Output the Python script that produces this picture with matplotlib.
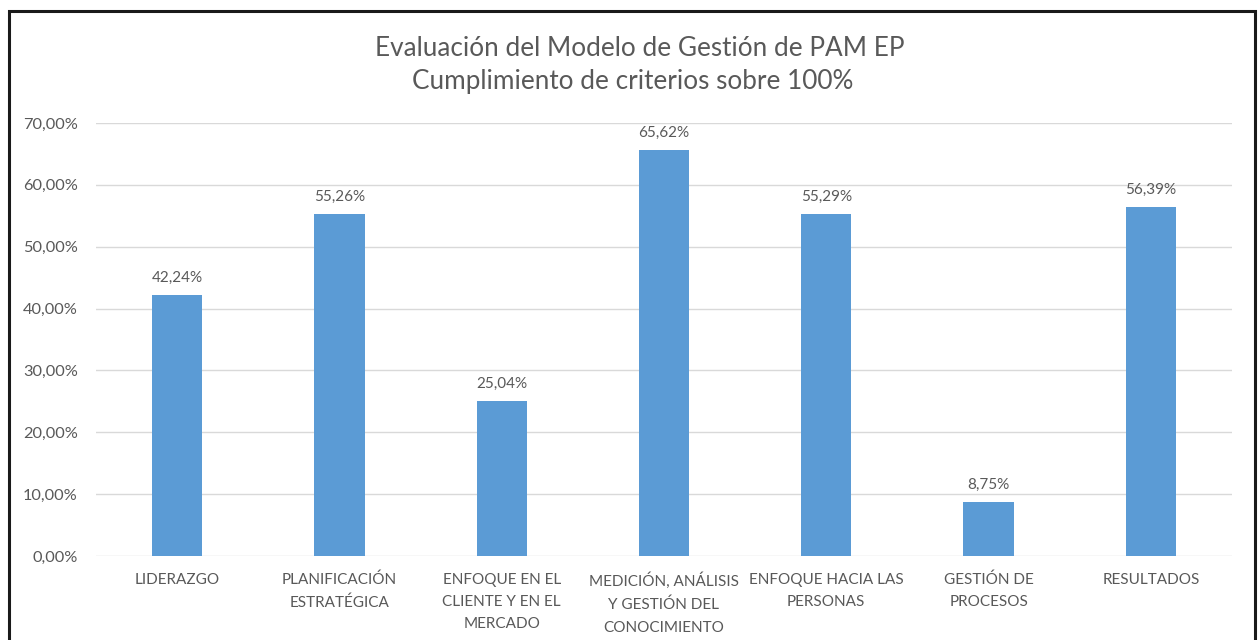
import matplotlib
matplotlib.use("Agg")
import matplotlib.pyplot as plt
from matplotlib.patches import Rectangle
from matplotlib.ticker import FuncFormatter

criterios = ["LIDERAZGO", "PLANIFICACIÓN\nESTRATÉGICA", "ENFOQUE EN EL\nCLIENTE Y EN EL\nMERCADO",
             "MEDICIÓN, ANÁLISIS\nY GESTIÓN DEL\nCONOCIMIENTO", "ENFOQUE HACIA LAS\nPERSONAS",
             "GESTIÓN DE\nPROCESOS", "RESULTADOS"]
cumplimiento = [42.24, 55.26, 25.04, 65.62, 55.29, 8.75, 56.39]

gris = "#595959"
plt.rcParams['font.family'] = ['Lato', 'DejaVu Sans']

fig = plt.figure(figsize=(12.58, 6.4), dpi=100)
ax = fig.add_axes([96/1258, 1-556/640, (1232-96)/1258, (556-123)/640])

x = range(len(criterios))
barras = ax.bar(x, cumplimiento, width=0.31, color="#5B9BD5", zorder=3)
for b, v in zip(barras, cumplimiento):
    ax.text(b.get_x() + b.get_width()/2, v + 1.6, f"{v:.2f}%".replace(".", ","),
            ha="center", va="bottom", fontsize=11, color=gris)

ax.set_ylim(0, 70)
ax.set_xlim(-0.5, len(criterios) - 0.5)
ax.set_yticks(range(0, 71, 10))
ax.yaxis.set_major_formatter(FuncFormatter(lambda v, p: f"{v:.2f}%".replace(".", ",")))
ax.set_xticks(list(x))
ax.set_xticklabels(criterios, fontsize=11, color=gris, linespacing=1.75)
ax.tick_params(axis="y", labelsize=11.8, labelcolor=gris, length=0, pad=13)
ax.tick_params(axis="x", length=0, pad=12)
ax.grid(axis="y", color="#D9D9D9", linewidth=1, zorder=0)
for s in ax.spines.values():
    s.set_visible(False)

fig.text(640/1258, 1-48/640, "Evaluación del Modelo de Gestión de PAM EP", ha="center", va="center",
         fontsize=18.8, color=gris)
fig.text(633/1258, 1-81/640, "Cumplimiento de criterios sobre 100%", ha="center", va="center",
         fontsize=18.8, color=gris)

# marco del gráfico
fig.patches.append(Rectangle((9/1258, -0.05), 1246/1258, 1.05 - 11/640, transform=fig.transFigure,
                             fill=False, edgecolor="#1a1a1a", linewidth=2.2, clip_on=False))

fig.savefig("out.png", dpi=100)
